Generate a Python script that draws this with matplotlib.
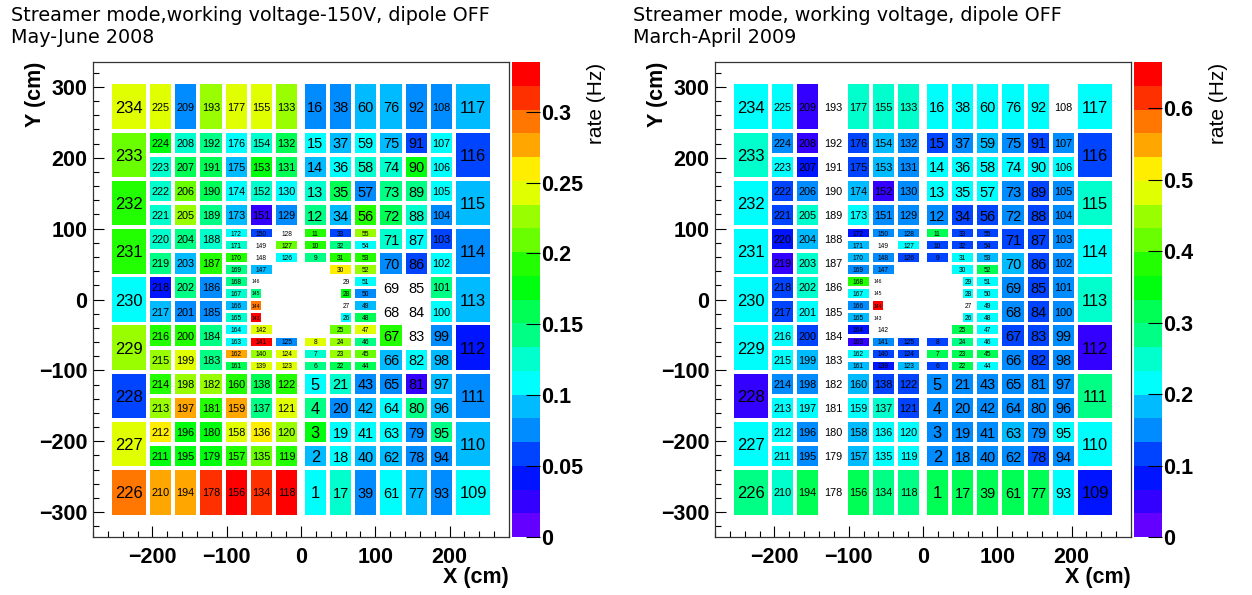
import colorsys
import matplotlib
matplotlib.use("Agg")
import matplotlib.pyplot as plt
from matplotlib.patches import Rectangle
from matplotlib.collections import PatchCollection
from matplotlib.colors import ListedColormap, BoundaryNorm
from matplotlib.ticker import MultipleLocator, FixedLocator, FuncFormatter

# ---------------- data: rate (Hz) per local board, bottom -> top in each column ----------------
# 2008 (left panel); columns R1..R7 (x>0, inner->outer), L1..L7 (x<0, inner->outer)
r08_R1 = [.109, .092, .176, .142, .109, .142, .126, .243, .142, .193, .193, .142, .126, .092, .109, .075]
r08_R2 = [.126, .109, .109, .075, .126, .159, .226, .226, .209, .109, 0, .176, 0, .260, .193, .142,
          .059, .092, .159, .109, .092, .075]
r08_R3 = [.075, .092, .109, .092, .075, .159, .209, .142, .243, .159, .092, .075, .109, .226, .193, .109,
          .226, .193, .075, .126, .109, .092]
r08_R4 = [.109, .092, .109, .109, .075, .092, .193, 0, 0, .075, .126, .159, .142, .126, .092, .092]
r08_R5 = [.092, .075, .075, .142, .025, .109, 0, 0, 0, .059, .109, .126, .142, .176, .059, .075]
r08_R6 = [.075, .075, .142, .092, .092, .092, .075, .109, .142, .109, .059, .075, .109, .109, .109, .075]
r08_R7 = [.109, .092, .075, .042, .092, .075, .092, .059, .092]
r08_L1 = [.327, .193, .226, .243, .193, .243, .243, .075, .109, .209, 0, .075, .109, .159, .159, .226]
r08_L2 = [.310, .209, .260, .142, .159, .243, .226, .327, .243, .327, .293, .142, 0, .092, 0, 0,
          .059, .025, .126, .176, .126, .243]
r08_L3 = [.327, .193, .243, .276, .193, .159, .276, .109, .109, .126, .092, .126, .142, .142, .193, .126,
          .109, .092, .109, .092, .109, .243]
r08_L4 = [.310, .176, .176, .193, .226, .142, .142, .075, .075, .193, .126, .142, .159, .159, .142, .226]
r08_L5 = [.276, .176, .176, .276, .226, .243, .193, .075, .142, .092, .142, .226, .209, .159, .126, .075]
r08_L6 = [.276, .176, .260, .226, .193, .226, .193, .092, .042, .142, .126, .126, .126, .126, .176, .243]
r08_L7 = [.293, .243, .059, .226, .109, .193, .193, .209, .243]

# 2009 (right panel)
r09_R1 = [.316, .150, .150, .150, .150, .116, .316, .116, .116, .116, .316, .150, .216, .216, .116, .216]
r09_R2 = [.316, .150, .150, .150, .150, .316, .316, .283, .316, .216, 0, .216, .216, .216, .216, .116,
          .116, .116, .216, .216, .150, .216]
r09_R3 = [.316, .150, .150, .150, .150, .216, .316, .216, .216, .216, .216, .216, .216, .316, .183, .116,
          .116, .116, .216, .216, .183, .216]
r09_R4 = [.316, .150, .183, .150, .150, .150, .116, .150, .150, .183, .116, .150, .150, .216, .150, .216]
r09_R5 = [.316, .116, .150, .150, .150, .116, .116, .116, .116, .116, .116, .116, .116, .216, .116, .216]
r09_R6 = [.216, .150, .216, .150, .150, .150, .150, .150, .150, .150, .150, .150, .150, .216, .150, 0]
r09_R7 = [.083, .216, .283, .050, .249, .216, .249, .116, .216]
r09_L1 = [.283, .216, .216, .116, .116, .183, .116, .116, .116, .216, .150, .150, .150, .150, .150, .249]
r09_L2 = [.283, .216, .216, .249, .116, .083, .116, .150, 0, 0, .648, 0, 0, .150, .150, 0,
          .150, .150, .050, .183, .183, .249]
r09_L3 = [.316, .183, .183, .216, .183, .183, .216, .050, .083, .183, .150, .216, .382, .150, .183, .183,
          .083, .216, .183, .116, .116, .249]
r09_L4 = [0, 0, 0, 0, 0, 0, 0, 0, 0, 0, 0, 0, 0, 0, 0, 0]
r09_L5 = [.316, .150, .150, .216, .150, .183, .116, .216, .249, .249, .183, .249, .150, .083, .050, .050]
r09_L6 = [.249, .216, .216, .216, .150, .216, .216, .116, .116, .050, .083, .116, .116, .216, .150, .216]
r09_L7 = [.283, .216, .050, .216, .216, .216, .216, .249, .216]

zmax_2008 = 0.335
zmax_2009 = 0.665
cb_ticks_2008 = [0, 0.05, 0.1, 0.15, 0.2, 0.25, 0.3]
cb_ticks_2009 = [0, 0.1, 0.2, 0.3, 0.4, 0.5, 0.6]
title_2008 = ["Streamer mode,working voltage-150V, dipole OFF", "May-June 2008"]
title_2009 = ["Streamer mode, working voltage, dipole OFF", "March-April 2009"]

rates_2008 = (r08_R1 + r08_R2 + r08_R3 + r08_R4 + r08_R5 + r08_R6 + r08_R7 +
              r08_L1 + r08_L2 + r08_L3 + r08_L4 + r08_L5 + r08_L6 + r08_L7)
rates_2009 = (r09_R1 + r09_R2 + r09_R3 + r09_R4 + r09_R5 + r09_R6 + r09_R7 +
              r09_L1 + r09_L2 + r09_L3 + r09_L4 + r09_L5 + r09_L6 + r09_L7)

# ---------------- geometry of the 234 local boards ----------------
def board_cells():
    cells = []
    for side in (1, -1):
        for c in range(1, 8):
            xa, xb = (34 * (c - 1), 34 * c) if c < 7 else (204, 255)
            for j in range(-4, 5):
                y0, y1 = 68 * j - 34, 68 * j + 34
                if c == 7 or abs(j) == 4:
                    subs = [(y0, y1)]
                elif c >= 4 or abs(j) >= 2:
                    subs = [(y0, y0 + 34), (y0 + 34, y1)]
                elif c in (2, 3):
                    subs = [(y0 + 17 * i, y0 + 17 * (i + 1)) for i in range(4)]
                else:
                    if j == 0:
                        subs = []
                    elif j == 1:
                        subs = [(y0 + 17 * i, y0 + 17 * (i + 1)) for i in (1, 2, 3)]
                    else:
                        subs = [(y0 + 17 * i, y0 + 17 * (i + 1)) for i in (0, 1, 2)]
                for (ya, yb) in subs:
                    narrow = (c == 2 and j == 0)
                    if narrow:
                        a, b = xa + 17 + 3.0, xb - 1.0
                    else:
                        a, b = xa + 5.0, xb - 0.5
                    if side == 1:
                        x0, x1 = a, b
                    else:
                        x0, x1 = -b, -a
                    cells.append((x0, x1, ya + 2.6, yb - 2.6))
    return cells

CELLS = board_cells()

def root_palette(n=20):
    cols = []
    for k in range(n):
        idx = int((k + 0.99) * 50 / n)
        hue = 280 - (idx + 1) * 5.6
        cols.append(colorsys.hls_to_rgb(hue / 360.0, 0.5, 1.0))
    return ListedColormap(cols)

W, H = 1252, 595
fig = plt.figure(figsize=(W / 100, H / 100), dpi=100)
LAB = "Liberation Sans"

def draw_panel(x0px, rates, zmax, cbticks, title):
    ax = fig.add_axes([x0px / W, 1 - 537 / H, 416 / W, 475 / H])
    cax = fig.add_axes([(x0px + 419) / W, 1 - 537 / H, 28 / W, 475 / H])
    ax.set_xlim(-280, 280)
    ax.set_ylim(-335, 335)
    pxx = 416 / 560.0
    pxy = 475 / 670.0
    cmap = root_palette(20)
    bounds = [zmax * i / 20 for i in range(21)]
    norm = BoundaryNorm(bounds, cmap.N)
    patches, vals = [], []
    for n, ((x0, x1, y0, y1), v) in enumerate(zip(CELLS, rates), start=1):
        if v > 0:
            patches.append(Rectangle((x0, y0), x1 - x0, y1 - y0))
            vals.append(v)
        wpx = (x1 - x0) * pxx
        hpx = (y1 - y0) * pxy
        s = str(n)
        em = min(0.86 * wpx / (0.556 * len(s)), 0.8 * hpx, 16.5)
        if len(s) == 2:
            em = min(em, 14.5)
        ax.text((x0 + x1) / 2, (y0 + y1) / 2, s, ha="center", va="center_baseline",
                fontsize=em * 0.72, family=LAB, color="black", zorder=3)
    pc = PatchCollection(patches, cmap=cmap, norm=norm, edgecolor="none", zorder=2)
    pc.set_array(vals)
    ax.add_collection(pc)

    ax.xaxis.set_major_locator(FixedLocator([-200, -100, 0, 100, 200]))
    ax.xaxis.set_minor_locator(MultipleLocator(20))
    ax.yaxis.set_major_locator(FixedLocator([-300, -200, -100, 0, 100, 200, 300]))
    ax.yaxis.set_minor_locator(MultipleLocator(20))
    ax.tick_params(which="both", direction="in", width=0.8, color="black")
    ax.tick_params(which="major", length=8)
    ax.tick_params(which="minor", length=4.5)
    ax.tick_params(axis="x", pad=7)
    ax.tick_params(axis="y", pad=4)
    for lab in ax.get_xticklabels() + ax.get_yticklabels():
        lab.set_fontfamily(LAB)
        lab.set_fontweight("bold")
        lab.set_fontsize(15.5)
    for sp in ax.spines.values():
        sp.set_linewidth(0.9)
        sp.set_color("#333333")

    cb = fig.colorbar(pc, cax=cax, boundaries=bounds, ticks=cbticks)
    cb.outline.set_visible(False)
    cax.yaxis.set_major_formatter(FuncFormatter(lambda v, p: "%g" % v))
    cax.tick_params(direction="in", length=10, width=0.8, color="black", pad=1,
                    labelsize=15.5)
    cax.minorticks_off()
    for lab in cax.get_yticklabels():
        lab.set_fontfamily(LAB)
        lab.set_fontweight("bold")

    fig.text((x0px + 503) / W, 1 - 63 / H, "rate (Hz)", rotation=90, ha="center", va="top",
             fontsize=15, family=LAB)
    fig.text((x0px - 58) / W, 1 - 62 / H, "Y (cm)", rotation=90, ha="center", va="top",
             fontsize=15.5, family=LAB, fontweight="bold")
    fig.text((x0px + 416) / W, 1 - 577 / H, "X (cm)", ha="right", va="center",
             fontsize=15.5, family=LAB, fontweight="bold")
    fig.text((x0px - 82) / W, 1 - 20.7 / H, title[0], ha="left", va="baseline",
             fontsize=13.8, family="DejaVu Sans")
    fig.text((x0px - 82) / W, 1 - 43.3 / H, title[1], ha="left", va="baseline",
             fontsize=13.8, family="DejaVu Sans")

draw_panel(93, rates_2008, zmax_2008, cb_ticks_2008, title_2008)
draw_panel(715, rates_2009, zmax_2009, cb_ticks_2009, title_2009)

fig.savefig("out.png", dpi=100)
